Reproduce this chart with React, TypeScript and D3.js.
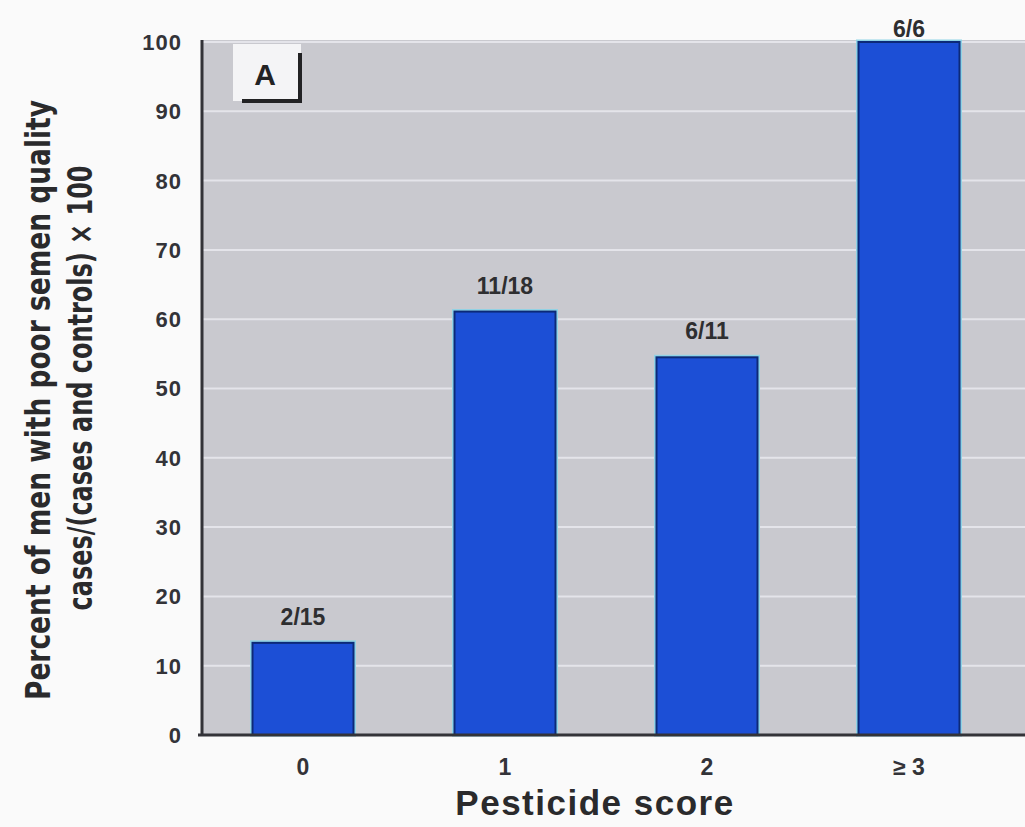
import { useRef, useEffect } from 'react';
import * as d3 from 'd3';

const categories = ['0', '1', '2', '≥ 3'];
const percents = [13.3, 61.1, 54.5, 100];
const fractions = ['2/15', '11/18', '6/11', '6/6'];
const yTicks = [0, 10, 20, 30, 40, 50, 60, 70, 80, 90, 100];

const W = 1025;
const H = 827;

export default function App() {
  const svgRef = useRef<SVGSVGElement>(null);

  useEffect(() => {
    const svg = d3.select(svgRef.current);
    svg.selectAll('*').remove();

    const left = 202, right = 1010, top = 42, bottom = 735;
    const x = d3.scaleBand<string>().domain(categories).range([left, right]).paddingInner(0.5).paddingOuter(0.25);
    const y = d3.scaleLinear().domain([0, 100]).range([bottom, top]);

    const g = svg.append('g');

    // plot background
    g.append('rect').attr('x', left).attr('y', top - 2).attr('width', W - left).attr('height', bottom - top + 2)
      .attr('fill', '#c9c9cf');

    // gridlines
    g.selectAll('line.grid').data(yTicks.filter(t => t > 0)).enter().append('line')
      .attr('x1', left).attr('x2', W).attr('y1', d => y(d)).attr('y2', d => y(d))
      .attr('stroke', '#e4e4ea').attr('stroke-width', 2);

    // bars: halo, then fill
    const barG = g.append('g');
    categories.forEach((c, i) => {
      const bx = x(c)!, bw = x.bandwidth(), by = y(percents[i]);
      barG.append('rect').attr('x', bx - 1).attr('y', by - 1).attr('width', bw + 2).attr('height', bottom - by + 1)
        .attr('fill', 'none').attr('stroke', '#8fd3e6').attr('stroke-width', 3);
      barG.append('rect').attr('x', bx).attr('y', by).attr('width', bw).attr('height', bottom - by)
        .attr('fill', '#1c4fd6').attr('stroke', '#0c2a78').attr('stroke-width', 2);
      barG.append('text').attr('x', bx + bw / 2).attr('y', Math.max(by - 18, 37))
        .attr('text-anchor', 'middle').attr('fill', '#2e2e30')
        .attr('font-family', 'Liberation Sans, Arial, sans-serif').attr('font-weight', 'bold').attr('font-size', 23)
        .text(fractions[i]);
    });

    // axes lines
    g.append('line').attr('x1', left).attr('x2', left).attr('y1', top - 2).attr('y2', bottom + 1)
      .attr('stroke', '#333338').attr('stroke-width', 3);
    g.append('line').attr('x1', left - 4).attr('x2', W).attr('y1', bottom).attr('y2', bottom)
      .attr('stroke', '#333338').attr('stroke-width', 3);

    // y tick labels
    g.selectAll('text.ytick').data(yTicks).enter().append('text')
      .attr('x', 182).attr('y', d => y(d)).attr('dy', '0.36em')
      .attr('text-anchor', 'end').attr('fill', '#333338')
      .attr('font-family', 'Liberation Sans, Arial, sans-serif').attr('font-weight', 'bold').attr('font-size', 22)
      .attr('letter-spacing', 1)
      .text(d => String(d));

    // x tick labels
    categories.forEach(c => {
      g.append('text').attr('x', x(c)! + x.bandwidth() / 2).attr('y', 775)
        .attr('text-anchor', 'middle').attr('fill', '#333338')
        .attr('font-family', 'Liberation Sans, Arial, sans-serif').attr('font-weight', 'bold').attr('font-size', 23)
        .text(c);
    });

    // x title
    g.append('text').attr('x', 595).attr('y', 815).attr('text-anchor', 'middle').attr('fill', '#2a2a2c')
      .attr('font-family', 'Liberation Sans, Arial, sans-serif').attr('font-weight', 'bold').attr('font-size', 35)
      .attr('letter-spacing', 1.5)
      .text('Pesticide score');

    // y title (two lines, rotated)
    const narrow = "'Liberation Sans Narrow', 'DejaVu Sans Condensed', sans-serif";
    g.append('text').attr('transform', 'translate(50,400) rotate(-90)').attr('text-anchor', 'middle')
      .attr('fill', '#2a2a2c').attr('font-family', narrow).attr('font-weight', 'bold').attr('font-size', 34)
      .attr('textLength', 600).attr('lengthAdjust', 'spacingAndGlyphs')
      .text('Percent of men with poor semen quality');
    g.append('text').attr('transform', 'translate(92,388) rotate(-90)').attr('text-anchor', 'middle')
      .attr('fill', '#2a2a2c').attr('font-family', narrow).attr('font-weight', 'bold').attr('font-size', 34)
      .attr('textLength', 445).attr('lengthAdjust', 'spacingAndGlyphs')
      .text('cases/(cases and controls) × 100');

    // panel label "A"
    g.append('rect').attr('x', 233).attr('y', 44).attr('width', 68).attr('height', 57).attr('fill', '#f4f4f6');
    g.append('polyline').attr('points', '242,101 300,101 300,53')
      .attr('fill', 'none').attr('stroke', '#222224').attr('stroke-width', 4);
    g.append('text').attr('x', 265).attr('y', 85).attr('text-anchor', 'middle').attr('fill', '#222224')
      .attr('font-family', 'Liberation Sans, Arial, sans-serif').attr('font-weight', 'bold').attr('font-size', 30)
      .text('A');
  }, []);

  return (
    <div style={{ position: 'absolute', left: 0, top: 0, background: '#fafafa', width: W, height: H, overflow: 'hidden' }}>
      <svg ref={svgRef} width={W} height={H} viewBox={`0 0 ${W} ${H}`} style={{ display: 'block' }} />
    </div>
  );
}
